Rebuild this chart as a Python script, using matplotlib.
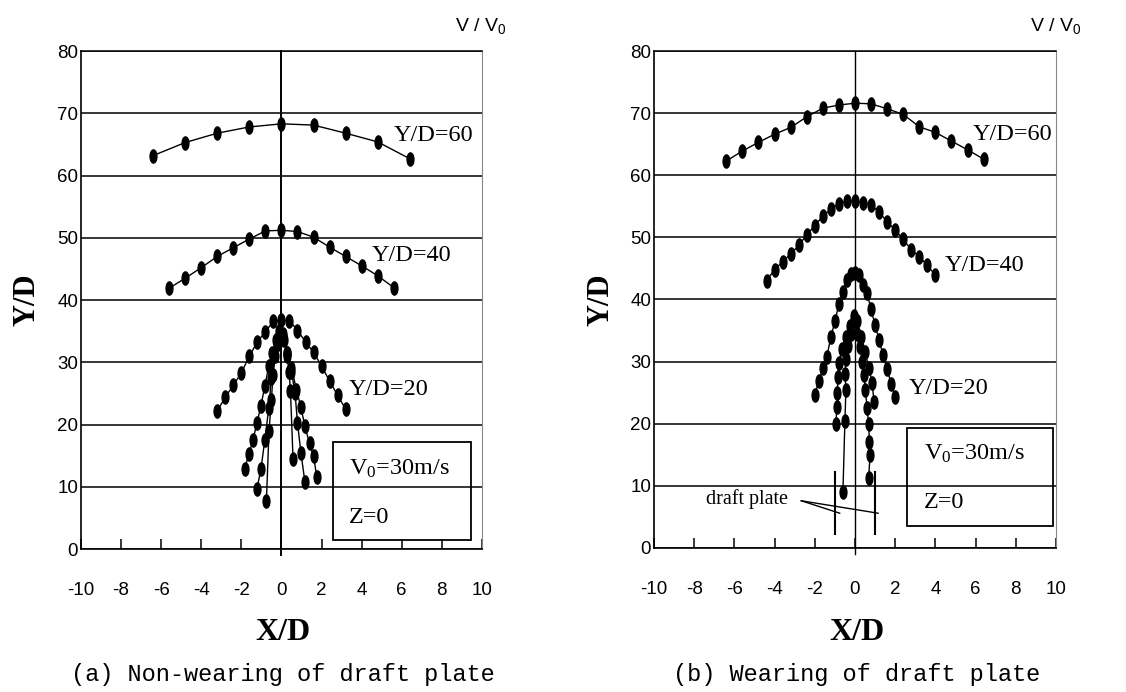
import numpy as np
import matplotlib
matplotlib.use('Agg')
import matplotlib.pyplot as plt
from matplotlib.path import Path

plt.rcParams['axes.unicode_minus'] = False

# ---- data ----
# (a) non-wearing of draft plate
a_60_x = [-6.4, -4.8, -3.2, -1.6, 0.0, 1.6, 3.2, 4.8, 6.4]
a_60_y = [63.2, 65.3, 66.8, 67.8, 68.3, 68.1, 66.8, 65.4, 62.7]
a_40_x = [-5.6, -4.8, -4.0, -3.2, -2.4, -1.6, -0.8, 0.0, 0.8, 1.6, 2.4, 3.2, 4.0, 4.8, 5.6]
a_40_y = [41.9, 43.5, 45.2, 47.0, 48.4, 49.8, 51.1, 51.2, 51.0, 50.1, 48.5, 47.0, 45.5, 43.9, 42.0]
a_20_x = [-3.2, -2.8, -2.4, -2.0, -1.6, -1.2, -0.8, -0.4, 0.0, 0.4, 0.8, 1.2, 1.6, 2.0, 2.4, 2.8, 3.2]
a_20_y = [22.2, 24.4, 26.3, 28.3, 31.0, 33.3, 34.9, 36.6, 36.8, 36.7, 35.1, 33.3, 31.6, 29.4, 27.0, 24.7, 22.5]
# streams below Y/D=20 in (a)
a_in1_x = [-1.83, -1.63, -1.42, -1.22, -1.02, -0.83, -0.63, -0.45, -0.25, -0.1]
a_in1_y = [12.9, 15.2, 17.5, 20.3, 23.0, 26.2, 29.4, 31.5, 33.5, 35.0]
a_in2_x = [-1.22, -1.02, -0.83, -0.63, -0.5, -0.35, -0.2, -0.05]
a_in2_y = [9.7, 12.9, 17.5, 22.7, 27.5, 31.0, 33.0, 34.5]
a_in3_x = [-0.75, -0.62, -0.5, -0.42, -0.3, -0.15]
a_in3_y = [7.7, 19.0, 24.0, 28.0, 31.0, 33.0]
a_in4_x = [0.58, 0.45, 0.38, 0.28, 0.15]
a_in4_y = [14.4, 25.4, 28.5, 31.0, 33.5]
a_in5_x = [1.17, 0.97, 0.8, 0.68, 0.5, 0.3, 0.1]
a_in5_y = [10.8, 15.5, 20.3, 25.0, 28.5, 31.5, 34.0]
a_in6_x = [1.77, 1.6, 1.4, 1.17, 0.97, 0.75, 0.5, 0.3, 0.1]
a_in6_y = [11.5, 14.9, 17.0, 19.7, 22.8, 25.6, 29.1, 31.5, 34.5]

# (b) wearing of draft plate
b_60_x = [-6.4, -5.6, -4.8, -4.0, -3.2, -2.4, -1.6, -0.8, 0.0, 0.8, 1.6, 2.4, 3.2, 4.0, 4.8, 5.6, 6.4]
b_60_y = [62.3, 63.9, 65.3, 66.6, 67.7, 69.4, 70.8, 71.3, 71.6, 71.5, 70.7, 69.8, 67.8, 66.9, 65.5, 64.1, 62.6]
b_40_x = [-4.4, -4.0, -3.6, -3.2, -2.8, -2.4, -2.0, -1.6, -1.2, -0.8, -0.4, 0.0,
          0.4, 0.8, 1.2, 1.6, 2.0, 2.4, 2.8, 3.2, 3.6, 4.0]
b_40_y = [43.05, 44.8, 46.1, 47.3, 48.7, 50.4, 51.9, 53.4, 54.5, 55.4, 55.8, 55.9,
          55.6, 55.2, 54.1, 52.5, 51.2, 49.7, 48.0, 46.9, 45.5, 43.9]
b_20_x = [-2.0, -1.8, -1.6, -1.4, -1.2, -1.0, -0.8, -0.6, -0.4, -0.2, 0.0,
          0.2, 0.4, 0.6, 0.8, 1.0, 1.2, 1.4, 1.6, 1.8, 2.0]
b_20_y = [24.6, 26.9, 28.9, 30.8, 33.9, 36.5, 39.2, 41.2, 43.2, 44.1, 44.3,
          43.9, 42.4, 41.1, 38.4, 35.9, 33.5, 31.0, 28.8, 26.4, 24.3]
b_in1_x = [-0.95, -0.9, -0.88, -0.85, -0.8, -0.65, -0.45, -0.25, -0.05]
b_in1_y = [20.0, 22.7, 25.0, 27.5, 29.8, 32.0, 34.0, 35.8, 37.3]
b_in2_x = [-0.6, -0.5, -0.45, -0.5, -0.45, -0.35, -0.2, -0.05]
b_in2_y = [9.0, 20.5, 25.5, 28.0, 30.5, 32.5, 34.5, 36.5]
b_in3_x = [0.68, 0.75, 0.72, 0.68, 0.6, 0.52, 0.45, 0.35, 0.25, 0.12, 0.0]
b_in3_y = [11.2, 15.0, 17.0, 20.0, 22.6, 25.4, 27.8, 30.0, 32.3, 34.5, 36.8]
b_in4_x = [0.95, 0.85, 0.7, 0.5, 0.3, 0.1]
b_in4_y = [23.5, 26.6, 29.0, 31.5, 34.0, 36.5]

plate_x = [-1.0, 1.0]
plate_y = [2.2, 12.3]

# vertical ellipse marker
circ = Path.unit_circle()
ellipse = Path(circ.vertices * np.array([0.52, 1.0]), circ.codes)

fig = plt.figure(figsize=(11.26, 6.92), dpi=100)
axa = fig.add_axes([0.0719, 0.2066, 0.3561, 0.7197])
axb = fig.add_axes([0.5808, 0.2081, 0.357, 0.7182])


def setup(ax, vlw):
    ax.set_xlim(-10, 10)
    ax.set_ylim(0, 80)
    ax.set_xticks(range(-10, 11, 2))
    ax.set_yticks(range(0, 81, 10))
    ax.grid(axis='y', color='black', lw=1.1)
    ax.set_axisbelow(True)
    ax.tick_params(axis='x', direction='in', length=7, width=1.1, pad=24, labelsize=13.5)
    ax.tick_params(axis='y', length=0, pad=2, labelsize=13.5)
    for lab in ax.get_xticklabels() + ax.get_yticklabels():
        lab.set_family('Liberation Sans')
    ax.spines['left'].set_linewidth(1.2)
    ax.spines['bottom'].set_linewidth(1.2)
    ax.spines['top'].set_linewidth(1.1)
    ax.spines['right'].set_color('#888888')
    ax.axvline(0, ymin=-0.012, ymax=1.0, color='black', lw=vlw, clip_on=False)


def curve(ax, x, y):
    ax.plot(x, y, color='black', lw=1.0, marker=ellipse, markersize=9.5,
            markerfacecolor='black', markeredgecolor='black')


setup(axa, 1.4)
setup(axb, 1.0)

for x, y in [(a_60_x, a_60_y), (a_40_x, a_40_y), (a_20_x, a_20_y),
             (a_in1_x, a_in1_y), (a_in2_x, a_in2_y), (a_in3_x, a_in3_y),
             (a_in4_x, a_in4_y), (a_in5_x, a_in5_y), (a_in6_x, a_in6_y)]:
    curve(axa, x, y)

for x, y in [(b_60_x, b_60_y), (b_40_x, b_40_y), (b_20_x, b_20_y),
             (b_in1_x, b_in1_y), (b_in2_x, b_in2_y), (b_in3_x, b_in3_y),
             (b_in4_x, b_in4_y)]:
    curve(axb, x, y)

# draft plate marks
for px in plate_x:
    axb.plot([px, px], plate_y, color='black', lw=1.5)
axb.plot([-2.67, -0.76], [7.6, 5.6], color='black', lw=1.0)
axb.plot([-2.67, 1.15], [7.6, 5.6], color='black', lw=1.0)
axb.text(-7.4, 7.9, 'draft plate', family='Liberation Serif', fontsize=14.5, va='center')

serif = 'Liberation Serif'
for ax, pos in [(axa, [(5.6, 66.5), (4.5, 47.2), (3.35, 25.7)]),
                (axb, [(5.85, 66.5), (4.45, 45.4), (2.65, 25.7)])]:
    for (tx, ty), lab in zip(pos, ['Y/D=60', 'Y/D=40', 'Y/D=20']):
        ax.text(tx, ty, lab, family=serif, fontsize=17.5, va='center', ha='left')

# condition boxes
axa.text(3.35, 12.9, r'V$\mathregular{_0}$=30m/s', family=serif, fontsize=17.5, va='center')
axa.text(3.35, 5.0, 'Z=0', family=serif, fontsize=17.5, va='center')
axa.add_patch(plt.Rectangle((2.58, 1.45), 6.88, 15.75, fill=False, ec='black', lw=1.3))
axb.text(3.45, 15.2, r'V$\mathregular{_0}$=30m/s', family=serif, fontsize=17.5, va='center')
axb.text(3.45, 7.4, 'Z=0', family=serif, fontsize=17.5, va='center')
axb.add_patch(plt.Rectangle((2.6, 3.5), 7.25, 15.8, fill=False, ec='black', lw=1.3))

# axis titles and captions
W, H = 1126, 692
for cx, ycx, cap, vx in [(283, 27, '(a) Non-wearing of draft plate', 481),
                         (857, 601, '(b) Wearing of draft plate', 1056)]:
    fig.text(cx / W, 1 - 633 / H, 'X/D', family=serif, weight='bold', fontsize=23,
             ha='center', va='center')
    fig.text(ycx / W, 1 - 300 / H, 'Y/D', family=serif, weight='bold', fontsize=22,
             ha='center', va='center', rotation=90)
    fig.text(cx / W, 1 - 674 / H, cap, family='Liberation Mono', fontsize=17,
             ha='center', va='center')
    fig.text(vx / W, 1 - 26 / H, r'V / V$\mathregular{_0}$', family='Liberation Sans',
             fontsize=14, ha='center', va='center')

fig.savefig('out.png', dpi=100)
